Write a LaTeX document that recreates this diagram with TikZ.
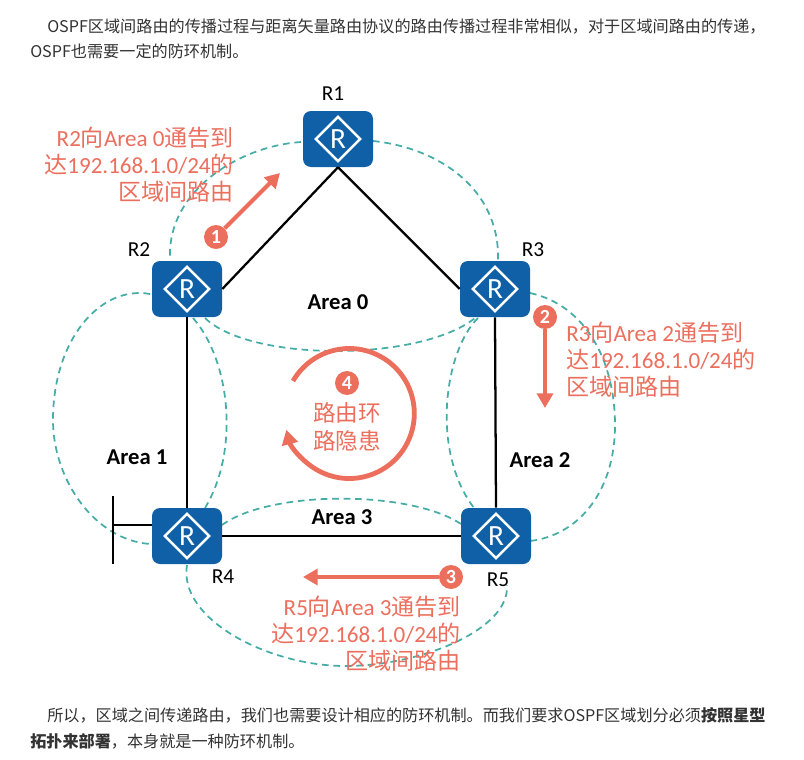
\documentclass[tikz,border=0pt]{standalone}
\usepackage{fontspec}
\setmainfont{Noto Sans CJK SC}
\newfontfamily\lat{Carlito}
\usetikzlibrary{shapes.geometric,arrows.meta}
\definecolor{routerblue}{HTML}{1060A8}
\definecolor{areateal}{HTML}{45ADA5}
\definecolor{notered}{HTML}{EC6F5E}
\definecolor{bodygrey}{HTML}{333333}
\tikzset{
  x=0.75pt,y=-0.75pt,
  routerbox/.style={fill=routerblue,rounded corners=6pt,minimum width=52.5pt,minimum height=42pt,inner sep=0pt},
  routermark/.style={diamond,aspect=1,draw=white,line width=1.9pt,minimum size=34pt,inner sep=0pt,text=white,font=\lat\fontsize{22}{22}\selectfont},
  rlabel/.style={inner sep=0pt,text=black,font=\lat\fontsize{16}{16}\selectfont},
  arealabel/.style={inner sep=0pt,text=black,font=\lat\bfseries\fontsize{17}{17}\selectfont},
  link/.style={draw=black,line width=1.7pt},
  areaedge/.style={draw=areateal,line width=1.3pt,dash pattern=on 5pt off 3.6pt},
  note/.style={inner sep=0pt,text=notered,font=\fontsize{17.3}{20.25}\selectfont},
  badge/.style={circle,fill=notered,text=white,minimum size=18pt,inner sep=0pt,font=\lat\bfseries\fontsize{15}{15}\selectfont},
  flow/.style={draw=notered,line width=3pt,-{Triangle[length=11pt,width=12pt]}},
  body/.style={inner sep=0pt,anchor=west,text=bodygrey,font=\fontsize{12.1}{12.1}\selectfont},
}
\newcommand{\router}[3]{%
  \node[routerbox] (#1) at (#2,#3) {};
  \node[routermark] (#1m) at (#2,#3) {R};
}
\begin{document}
\begin{tikzpicture}
\useasboundingbox (0,0) rectangle (804,760);
\fill[white] (0,0) rectangle (804,760);

\node[body] (p1) at (47,27) {OSPF区域间路由的传播过程与距离矢量路由协议的路由传播过程非常相似，对于区域间路由的传递，};
\node[body] (p2) at (30,51) {OSPF也需要一定的防环机制。};
\node[body] (p3) at (47,715) {所以，区域之间传递路由，我们也需要设计相应的防环机制。而我们要求OSPF区域划分必须\textbf{按照星型}};
\node[body] (p4) at (30,741) {\textbf{拓扑来部署}，本身就是一种防环机制。};

% Area outlines
\draw[areaedge] (301,142) .. controls (240,146) and (168,190) .. (170,257);
\draw[areaedge] (373,141) .. controls (440,148) and (500,190) .. (498,260);
\draw[areaedge] (205,318) .. controls (250,362) and (420,362) .. (475,318);
\draw[areaedge] (150,294) .. controls (100,285) and (53,340) .. (53,420) .. controls (53,480) and (95,540) .. (150,544);
\draw[areaedge] (193,318) .. controls (230,360) and (240,450) .. (205,508);
\draw[areaedge] (530,293) .. controls (585,305) and (615,360) .. (615,425) .. controls (615,490) and (580,535) .. (530,541);
\draw[areaedge] (478,318) .. controls (445,350) and (430,450) .. (474,508);
\draw[areaedge] (222,525) .. controls (270,490) and (410,490) .. (461,524);
\draw[areaedge] (187,565) .. controls (178,620) and (270,666) .. (345,666) .. controls (420,666) and (510,630) .. (507,585);

% Routers
\router{R1}{338}{139}
\router{R2}{187}{289}
\router{R3}{495}{289}
\router{R4}{187}{536}
\router{R5}{496}{536}

% Links
\coordinate (apex) at (R1.south);
\coordinate (stub) at (113,525);
\coordinate (stubtop) at (113,496);
\coordinate (stubbot) at (113,564);
\draw[link] (apex) -- (R2.east);
\draw[link] (apex) -- (R3.west);
\draw[link] (R2.south) -- (R4.north);
\draw[link] (R3.south) -- (R5.north);
\draw[link] (R4.east) -- (R5.west);
\draw[link] (stub) -- (stub -| R4.west);
\draw[link] (stubtop) -- (stubbot);

% Router labels
\node[rlabel] (lR1) at (333,94) {R1};
\node[rlabel] (lR2) at (139,250) {R2};
\node[rlabel] (lR3) at (533,250) {R3};
\node[rlabel] (lR4) at (223,577) {R4};
\node[rlabel] (lR5) at (498,580) {R5};

\node[arealabel] (A0) at (338,302) {Area 0};
\node[arealabel] (A1) at (137,457) {Area 1};
\node[arealabel] (A2) at (540,460) {Area 2};
\node[arealabel] (A3) at (342,517) {Area 3};

% Flow arrows and badges
\node[badge] (b1) at (216,237) {1};
\node[badge] (b2) at (545,317) {2};
\node[badge] (b3) at (451,577) {3};
\node[badge] (b4) at (347,383) {4};
\coordinate (e1) at (280,173);
\coordinate (e2) at (545,408);
\coordinate (e3) at (303,577);
\draw[flow] (b1) -- (e1);
\draw[flow] (b2) -- (e2);
\draw[flow] (b3) -- (e3);
\coordinate (ringstart) at (293,381);
\draw[flow,line width=3.6pt] (ringstart) arc[start angle=210,end angle=525.5,radius=65];

% Notes
\node[note,anchor=east,align=right] (n1) at (234,164.5) {{\lat R2}向{\lat Area 0}通告到\\达{\lat 192.168.1.0/24}的\\区域间路由};
\node[note,anchor=west,align=left] (n2) at (566,360) {{\lat R3}向{\lat Area 2}通告到\\达{\lat 192.168.1.0/24}的\\区域间路由};
\node[note,anchor=east,align=right] (n3) at (461,634) {{\lat R5}向{\lat Area 3}通告到\\达{\lat 192.168.1.0/24}的\\区域间路由};
\node[note,align=center,font=\fontsize{17}{21.5}\selectfont] (n4) at (347,427) {路由环\\路隐患};
\end{tikzpicture}
\end{document}
